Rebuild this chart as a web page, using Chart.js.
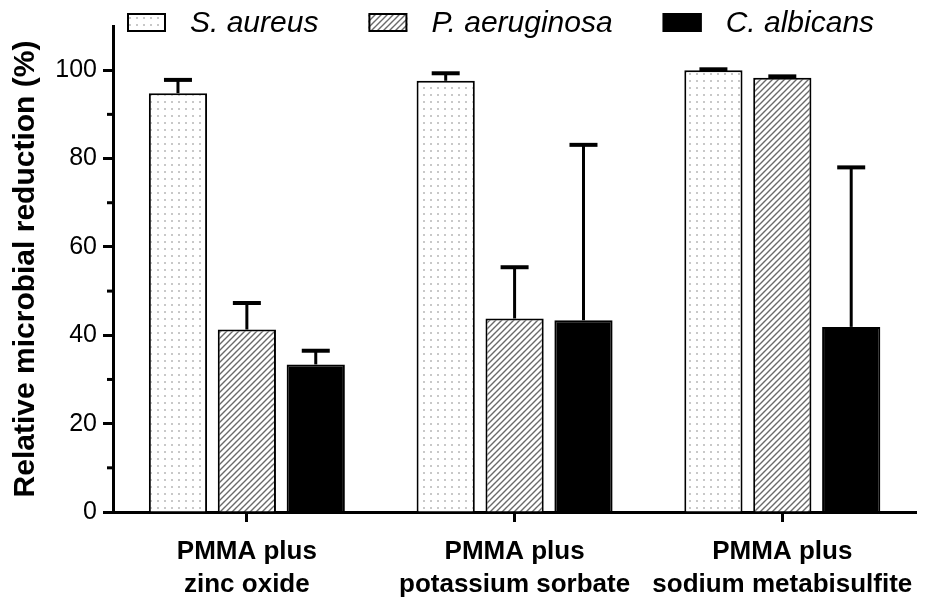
<!DOCTYPE html>
<html>
<head>
<meta charset="utf-8">
<script src="https://cdn.jsdelivr.net/npm/chart.js@4.4.1/dist/chart.umd.min.js"></script>
<style>
  html, body { margin: 0; padding: 0; background: #fff; }
  #wrap { width: 927px; height: 602px; position: relative; }
</style>
</head>
<body>
<div id="wrap"><canvas id="chart"></canvas></div>
<script>
// ─── data ───
var GROUPS = [['PMMA plus', 'zinc oxide'], ['PMMA plus', 'potassium sorbate'], ['PMMA plus', 'sodium metabisulfite']];
var SERIES = ['S. aureus', 'P. aeruginosa', 'C. albicans'];

var S_AUREUS      = [94.8, 97.6, 100.0];
var S_AUREUS_SD   = [3.0, 1.7, 0.2];
var P_AERUGINOSA    = [41.3, 43.8, 98.3];
var P_AERUGINOSA_SD = [6.0, 11.6, 0.3];
var C_ALBICANS    = [33.4, 43.4, 41.9];
var C_ALBICANS_SD = [3.1, 39.7, 36.1];

var Y_MIN = 0, Y_MAX = 110, Y_STEP = 10;
var Y_TITLE = 'Relative microbial reduction (%)';

var FONT = "'Liberation Sans', Arial, Helvetica, sans-serif";

var canvas = document.getElementById('chart');
var ctx = canvas.getContext('2d');

// ─── fill patterns ───
function dotPattern() {
  var c = document.createElement('canvas');
  c.width = 7; c.height = 7;
  var g = c.getContext('2d');
  g.fillStyle = '#fff';
  g.fillRect(0, 0, 7, 7);
  g.fillStyle = '#c8c8c8';
  g.fillRect(3, 3, 2, 2);
  return ctx.createPattern(c, 'repeat');
}

function hatchPattern() {
  var s = 6;
  var c = document.createElement('canvas');
  c.width = s; c.height = s;
  var g = c.getContext('2d');
  g.fillStyle = '#fff';
  g.fillRect(0, 0, s, s);
  g.strokeStyle = '#6a6a6a';
  g.lineWidth = 1.4;
  g.beginPath();
  g.moveTo(0, s); g.lineTo(s, 0);
  g.moveTo(-1, 1); g.lineTo(1, -1);
  g.moveTo(s - 1, s + 1); g.lineTo(s + 1, s - 1);
  g.stroke();
  return ctx.createPattern(c, 'repeat');
}

function makeSet(label, values, sd, fill) {
  return {
    label: label,
    data: values,
    sd: sd,
    backgroundColor: fill,
    borderColor: '#000',
    borderWidth: 2,
    categoryPercentage: 0.772,
    barPercentage: 0.845
  };
}

// ─── plugins ───
var errorBars = {
  id: 'errorBars',
  afterDatasetsDraw: function (chart) {
    var c = chart.ctx;
    var yScale = chart.scales.y;
    c.save();
    c.strokeStyle = '#000';
    chart.data.datasets.forEach(function (ds, di) {
      var meta = chart.getDatasetMeta(di);
      meta.data.forEach(function (bar, i) {
        var top = yScale.getPixelForValue(ds.data[i] + ds.sd[i]);
        c.lineWidth = 3;
        c.beginPath();
        c.moveTo(bar.x, bar.y);
        c.lineTo(bar.x, top);
        c.stroke();
        c.lineWidth = 4;
        c.beginPath();
        c.moveTo(bar.x - 14, top);
        c.lineTo(bar.x + 14, top);
        c.stroke();
      });
    });
    c.restore();
  }
};

var minorTicks = {
  id: 'minorTicks',
  afterDraw: function (chart) {
    var c = chart.ctx;
    var y = chart.scales.y;
    var left = chart.chartArea.left;
    c.save();
    c.strokeStyle = '#000';
    c.lineWidth = 3;
    y.ticks.forEach(function (t) {
      if (t.value % 20 !== 0 && t.value < Y_MAX) {
        var py = y.getPixelForValue(t.value);
        c.beginPath();
        c.moveTo(left - 6, py);
        c.lineTo(left, py);
        c.stroke();
      }
    });
    c.restore();
  }
};

var topLegend = {
  id: 'topLegend',
  afterDraw: function (chart) {
    var c = chart.ctx;
    var x = 127;
    c.save();
    c.font = 'italic 30px ' + FONT;
    c.textBaseline = 'middle';
    chart.data.datasets.forEach(function (ds) {
      c.fillStyle = ds.backgroundColor;
      c.fillRect(x, 13, 39, 19);
      c.strokeStyle = '#000';
      c.lineWidth = 2;
      c.strokeRect(x + 1, 14, 37, 17);
      c.fillStyle = '#000';
      c.fillText(ds.label, x + 63, 24);
      x += 63 + c.measureText(ds.label).width + 50;
    });
    c.restore();
  }
};

function isMajor(v) { return v % 20 === 0 && v <= 100; }

new Chart(canvas, {
  type: 'bar',
  data: {
    labels: GROUPS,
    datasets: [
      makeSet(SERIES[0], S_AUREUS, S_AUREUS_SD, dotPattern()),
      makeSet(SERIES[1], P_AERUGINOSA, P_AERUGINOSA_SD, hatchPattern()),
      makeSet(SERIES[2], C_ALBICANS, C_ALBICANS_SD, '#000')
    ]
  },
  options: {
    responsive: true,
    maintainAspectRatio: false,
    animation: false,
    layout: { padding: { top: 26, right: 10, bottom: 0, left: 0 } },
    plugins: {
      legend: { display: false },
      tooltip: { enabled: false }
    },
    scales: {
      x: {
        grid: { display: true, drawOnChartArea: false, drawTicks: true, tickLength: 10, tickWidth: 3, tickColor: '#000', offset: false },
        border: { display: true, color: '#000', width: 3 },
        ticks: {
          color: '#000',
          font: { family: FONT, size: 26, weight: 'bold', lineHeight: 1.27 },
          padding: 13,
          maxRotation: 0,
          autoSkip: false
        },
        afterFit: function (s) { s.height = 90; }
      },
      y: {
        min: Y_MIN,
        max: Y_MAX,
        grid: {
          display: true,
          drawOnChartArea: false,
          drawTicks: true,
          tickLength: 10,
          tickWidth: 3,
          tickColor: function (c) { return c.tick && isMajor(c.tick.value) ? '#000' : 'rgba(0,0,0,0)'; }
        },
        border: { display: true, color: '#000', width: 3 },
        ticks: {
          stepSize: Y_STEP,
          color: '#000',
          padding: 6,
          font: { family: FONT, size: 25 },
          callback: function (v) { return isMajor(v) ? v : ''; }
        },
        title: {
          display: true,
          text: Y_TITLE,
          color: '#000',
          font: { family: FONT, size: 30, weight: 'bold' },
          padding: { top: 8, bottom: 0 }
        },
        afterFit: function (s) { s.width = 113; }
      }
    }
  },
  plugins: [errorBars, minorTicks, topLegend]
});
</script>
</body>
</html>
